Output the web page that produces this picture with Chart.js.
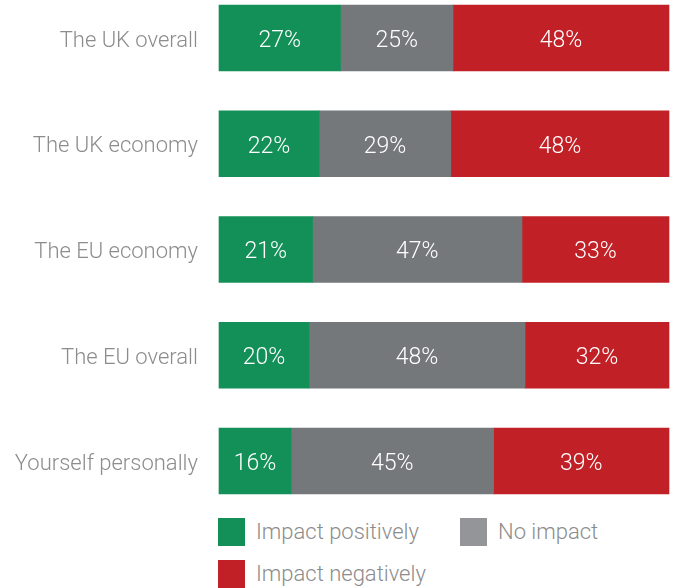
<!DOCTYPE html>
<html>
<head>
<meta charset="utf-8">
<script src="https://cdn.jsdelivr.net/npm/chart.js@4/dist/chart.umd.min.js"></script>
<style>
  html, body { margin: 0; padding: 0; background: #fff; }
  #wrap { position: relative; width: 674px; height: 588px; }
  #chart { position: absolute; left: 0; top: 0; }
  .legend { position: absolute; font-family: Roboto, "Liberation Sans", sans-serif; font-weight: 300;
            font-size: 22px; color: #8c8c8c; white-space: nowrap; }
  .legend span.box { position: absolute; left: 0; top: 0; width: 27px; height: 28px; }
  .legend span.txt { position: absolute; left: 38px; top: 0; line-height: 28px; }
</style>
</head>
<body>
<div id="wrap">
  <canvas id="chart" width="674" height="500"></canvas>
  <div id="legend"></div>
</div>
<script>
// Survey categories (top to bottom)
const categories = ['The UK overall', 'The UK economy', 'The EU economy', 'The EU overall', 'Yourself personally'];

// Series values (percent, as printed; rows may not sum to exactly 100)
const positive = [27, 22, 21, 20, 16];
const noImpact = [25, 29, 47, 48, 45];
const negative = [48, 48, 33, 32, 39];

const seriesNames = ['Impact positively', 'No impact', 'Impact negatively'];
const barColors = ['#138f58', '#75787b', '#c22027'];
const legendColors = ['#138f58', '#939598', '#c22027'];

// bars are drawn as share of the row total so every bar fills the width
const rowTotals = categories.map((c, i) => positive[i] + noImpact[i] + negative[i]);
const share = arr => arr.map((v, i) => v / rowTotals[i] * 100);
const printed = [positive, noImpact, negative];

// Draws the percentage inside each bar segment
const valueLabels = {
    id: 'valueLabels',
    afterDatasetsDraw(chart) {
        const ctx = chart.ctx;
        ctx.save();
        ctx.font = '300 23px Roboto, "Liberation Sans", sans-serif';
        ctx.fillStyle = '#ffffff';
        ctx.textAlign = 'center';
        ctx.textBaseline = 'middle';
        chart.data.datasets.forEach((ds, i) => {
            chart.getDatasetMeta(i).data.forEach((bar, j) => {
                const p = bar.getProps(['x', 'y', 'base'], true);
                ctx.fillText(printed[i][j] + '%', (p.x + p.base) / 2, p.y + 3);
            });
        });
        ctx.restore();
    }
};

const chart = new Chart(document.getElementById('chart'), {
    type: 'bar',
    data: {
        labels: categories,
        datasets: [
            { label: seriesNames[0], data: share(positive), backgroundColor: barColors[0] },
            { label: seriesNames[1], data: share(noImpact), backgroundColor: barColors[1] },
            { label: seriesNames[2], data: share(negative), backgroundColor: barColors[2] }
        ]
    },
    options: {
        indexAxis: 'y',
        responsive: false,
        animation: false,
        layout: { padding: { top: 38, bottom: 39, right: 5, left: 0 } },
        datasets: { bar: { barThickness: 66, clip: false, borderWidth: 0 } },
        scales: {
            x: { stacked: true, min: 0, max: 100, display: false },
            y: {
                stacked: true,
                offset: false,
                grid: { display: false, drawTicks: false },
                border: { display: false },
                ticks: {
                    padding: 21,
                    labelOffset: 3,
                    color: '#8c8c8c',
                    font: { family: 'Roboto, "Liberation Sans", sans-serif', size: 22, weight: 300 }
                },
                afterFit(scale) { scale.width = 219; }
            }
        },
        plugins: {
            legend: { display: false },
            tooltip: { enabled: false }
        }
    },
    plugins: [valueLabels]
});

// Legend below the chart
const legendPos = [[218, 518], [460, 518], [218, 560]];
const legendEl = document.getElementById('legend');
chart.data.datasets.forEach((ds, i) => {
    const item = document.createElement('div');
    item.className = 'legend';
    item.style.left = legendPos[i][0] + 'px';
    item.style.top = legendPos[i][1] + 'px';
    item.innerHTML = '<span class="box" style="background:' + legendColors[i] + '"></span>' +
                     '<span class="txt">' + ds.label + '</span>';
    legendEl.appendChild(item);
});
</script>
</body>
</html>
